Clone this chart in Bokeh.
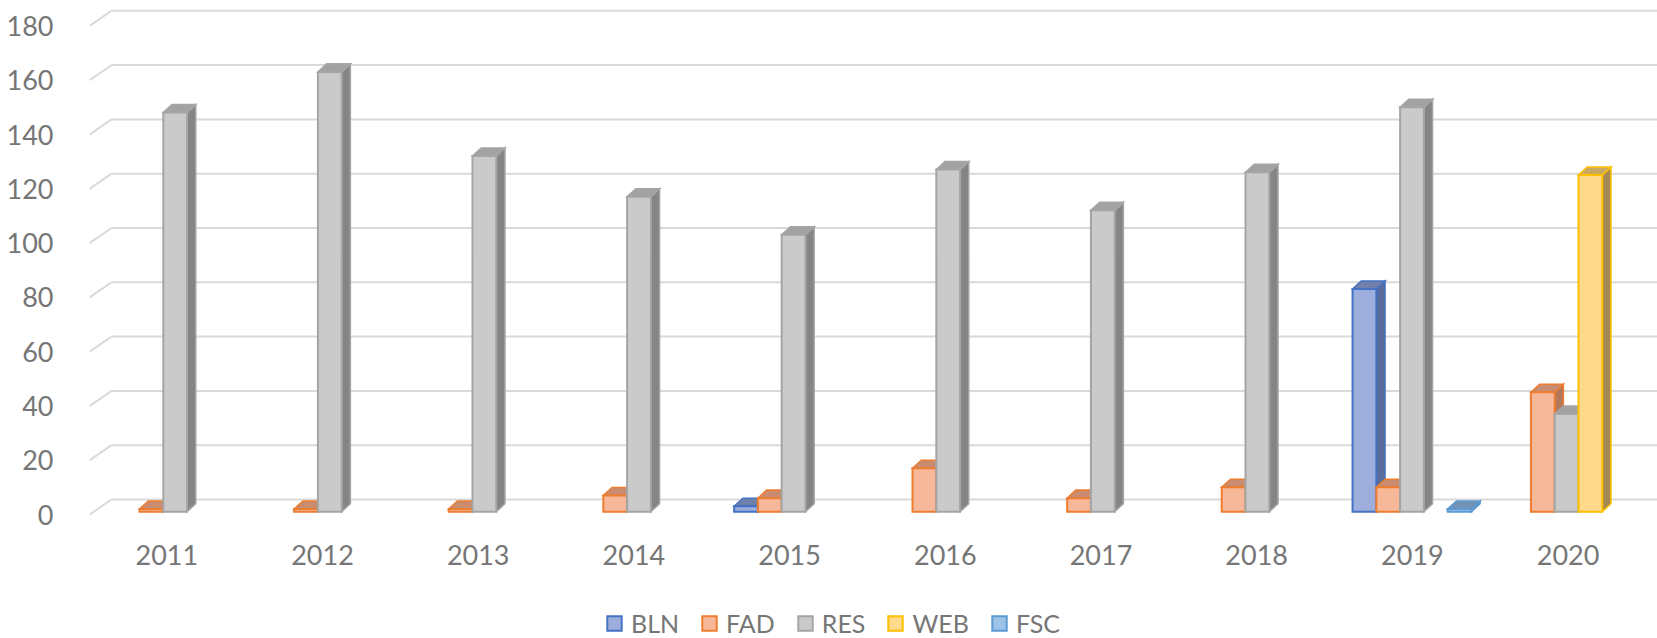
from bokeh.plotting import figure
from bokeh.models import Range1d, FixedTicker, Legend, LegendItem
from bokeh.core.properties import value
from bokeh.embed import file_html
from bokeh.resources import INLINE

# ---------------- data ----------------
years = ["2011", "2012", "2013", "2014", "2015", "2016", "2017", "2018", "2019", "2020"]
series_names = ["BLN", "FAD", "RES", "WEB", "FSC"]
BLN = [None, None, None, None, 2, None, None, None, 82, None]
FAD = [1, 1, 1, 6, 5, 16, 5, 9, 9, 44]
RES = [147, 162, 131, 116, 102, 126, 111, 125, 149, 36]
WEB = [None, None, None, None, None, None, None, None, None, 124]
FSC = [None, None, None, None, None, None, None, None, 1, None]
y_ticks = [0, 20, 40, 60, 80, 100, 120, 140, 160, 180]

# ---------------- styles ----------------
front_colors = ["#9DAEDD", "#F6B898", "#CACACA", "#FFD98C", "#9FC3E7"]
edge_colors = ["#4472C4", "#ED7D31", "#A5A5A5", "#FFC000", "#5B9BD5"]
top_colors = ["#6F80AA", "#C98C70", "#A2A2A2", "#C9A862", "#7493B4"]
side_colors = ["#5A6C9C", "#B3775A", "#858585", "#A48A52", "#5E80A3"]
TEXT = "#767676"
GRID = "#D9D9D9"
FONT = "Lato"

# 3-D geometry (in data units: 1 x-unit = one category, 1 y-unit = one value)
BAR_W = 0.1538
BAR_SHIFT_X = 0.0543
BAR_BASE = 1.1
DX, DY = 0.0563, 2.95          # bar depth
WALL_DX, WALL_DY = 0.1423, 5.6  # back wall offset
LABEL_STEP = 1.0071             # perspective spread of category labels
X0, X1 = -0.5, 9.6423
Y0, Y1 = -45.6, 189.39
LABEL_Y = -14.9

p = figure(width=1657, height=638, output_backend="svg", toolbar_location=None,
           x_range=Range1d(X0, X1), y_range=Range1d(Y0, Y1),
           x_axis_location=None, min_border_left=89, min_border_right=0,
           min_border_top=0, min_border_bottom=0)
p.outline_line_color = None
p.xgrid.visible = False
p.ygrid.visible = False
p.background_fill_color = "white"
p.border_fill_color = "white"

ax = p.yaxis[0]
ax.ticker = FixedTicker(ticks=y_ticks)
ax.axis_line_color = None
ax.major_tick_line_color = None
ax.minor_tick_line_color = None
ax.major_label_standoff = 30
ax.major_label_text_font = FONT
ax.major_label_text_font_size = "27px"
ax.major_label_text_color = TEXT

# gridlines: diagonal on the side wall + horizontal on back wall
p.segment(x0=[X0] * len(y_ticks), y0=y_ticks,
          x1=[X0 + WALL_DX] * len(y_ticks), y1=[t + WALL_DY for t in y_ticks],
          line_color=GRID, line_width=2)
p.segment(x0=[X0 + WALL_DX] * len(y_ticks), y0=[t + WALL_DY for t in y_ticks],
          x1=[X1 + 1] * len(y_ticks), y1=[t + WALL_DY for t in y_ticks],
          line_color=GRID, line_width=2)

data = [BLN, FAD, RES, WEB, FSC]
legend_items = []
for s, vals in enumerate(data):
    L, R, B, T = [], [], [], []
    top_xs, top_ys, side_xs, side_ys = [], [], [], []
    for k, v in enumerate(vals):
        if v is None:
            continue
        x0 = k + BAR_SHIFT_X + (s - 2.5) * BAR_W
        x1 = x0 + BAR_W
        y0 = BAR_BASE
        y1 = BAR_BASE + v
        L.append(x0); R.append(x1); B.append(y0); T.append(y1)
        top_xs.append([x0, x1, x1 + DX, x0 + DX])
        top_ys.append([y1, y1, y1 + DY, y1 + DY])
        side_xs.append([x1, x1 + DX, x1 + DX, x1])
        side_ys.append([y0, y0 + DY, y1 + DY, y1])
    p.patches(side_xs, side_ys, fill_color=side_colors[s], line_color=edge_colors[s],
              line_width=1.5, line_join="miter")
    p.patches(top_xs, top_ys, fill_color=top_colors[s], line_color=edge_colors[s],
              line_width=1.5, line_join="miter")
    r = p.quad(left=L, right=R, bottom=B, top=T, fill_color=front_colors[s],
               line_color=edge_colors[s], line_width=2, line_join="miter")
    legend_items.append(LegendItem(label=series_names[s], renderers=[r]))

# category labels
p.text(x=[k * LABEL_STEP for k in range(len(years))], y=[LABEL_Y] * len(years), text=years,
       text_align="center", text_baseline="middle", text_font=value(FONT),
       text_font_size="27px", text_color=TEXT)

legend = Legend(items=legend_items, orientation="horizontal", location=(516, 0))
legend.glyph_width = 18
legend.glyph_height = 18
legend.label_standoff = 8
legend.spacing = 21
legend.padding = 0
legend.margin = 0
legend.border_line_color = None
legend.background_fill_alpha = 0
legend.label_text_font = FONT
legend.label_text_font_size = "25px"
legend.label_text_color = TEXT
p.add_layout(legend)

open("out.html", "w").write(file_html(p, INLINE))
